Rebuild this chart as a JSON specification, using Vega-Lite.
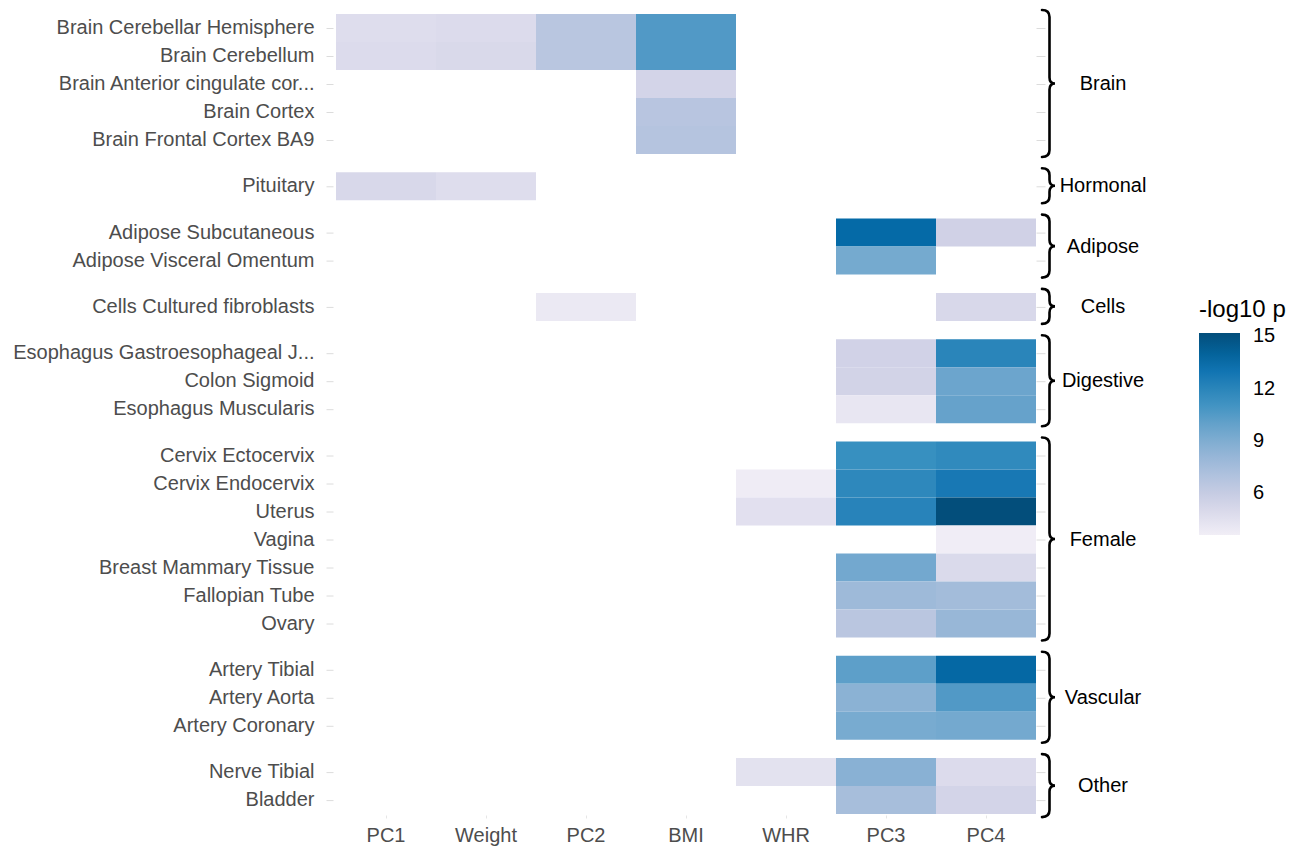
{
  "$schema": "https://vega.github.io/schema/vega-lite/v6.json",
  "padding": {"left": 12, "top": 4, "right": 5, "bottom": 5},
  "background": "white",
  "data": {"values": [
    {"group": "Brain", "tissue": "Brain Cerebellar Hemisphere", "pheno": "PC1", "value": 4.7},
    {"group": "Brain", "tissue": "Brain Cerebellar Hemisphere", "pheno": "Weight", "value": 4.85},
    {"group": "Brain", "tissue": "Brain Cerebellar Hemisphere", "pheno": "PC2", "value": 6.6},
    {"group": "Brain", "tissue": "Brain Cerebellar Hemisphere", "pheno": "BMI", "value": 10.6},
    {"group": "Brain", "tissue": "Brain Cerebellum", "pheno": "PC1", "value": 4.85},
    {"group": "Brain", "tissue": "Brain Cerebellum", "pheno": "Weight", "value": 5.0},
    {"group": "Brain", "tissue": "Brain Cerebellum", "pheno": "PC2", "value": 6.6},
    {"group": "Brain", "tissue": "Brain Cerebellum", "pheno": "BMI", "value": 10.6},
    {"group": "Brain", "tissue": "Brain Anterior cingulate cor...", "pheno": "BMI", "value": 5.35},
    {"group": "Brain", "tissue": "Brain Cortex", "pheno": "BMI", "value": 6.65},
    {"group": "Brain", "tissue": "Brain Frontal Cortex BA9", "pheno": "BMI", "value": 6.8},
    {"group": "Hormonal", "tissue": "Pituitary", "pheno": "PC1", "value": 5.05},
    {"group": "Hormonal", "tissue": "Pituitary", "pheno": "Weight", "value": 4.7},
    {"group": "Adipose", "tissue": "Adipose Subcutaneous", "pheno": "PC3", "value": 13.6},
    {"group": "Adipose", "tissue": "Adipose Subcutaneous", "pheno": "PC4", "value": 5.55},
    {"group": "Adipose", "tissue": "Adipose Visceral Omentum", "pheno": "PC3", "value": 9.35},
    {"group": "Cells", "tissue": "Cells Cultured fibroblasts", "pheno": "PC2", "value": 3.95},
    {"group": "Cells", "tissue": "Cells Cultured fibroblasts", "pheno": "PC4", "value": 5.05},
    {"group": "Digestive", "tissue": "Esophagus Gastroesophageal J...", "pheno": "PC3", "value": 5.45},
    {"group": "Digestive", "tissue": "Esophagus Gastroesophageal J...", "pheno": "PC4", "value": 12.0},
    {"group": "Digestive", "tissue": "Colon Sigmoid", "pheno": "PC3", "value": 5.4},
    {"group": "Digestive", "tissue": "Colon Sigmoid", "pheno": "PC4", "value": 9.7},
    {"group": "Digestive", "tissue": "Esophagus Muscularis", "pheno": "PC3", "value": 4.1},
    {"group": "Digestive", "tissue": "Esophagus Muscularis", "pheno": "PC4", "value": 9.9},
    {"group": "Female", "tissue": "Cervix Ectocervix", "pheno": "PC3", "value": 11.3},
    {"group": "Female", "tissue": "Cervix Ectocervix", "pheno": "PC4", "value": 11.7},
    {"group": "Female", "tissue": "Cervix Endocervix", "pheno": "WHR", "value": 3.7},
    {"group": "Female", "tissue": "Cervix Endocervix", "pheno": "PC3", "value": 11.8},
    {"group": "Female", "tissue": "Cervix Endocervix", "pheno": "PC4", "value": 12.8},
    {"group": "Female", "tissue": "Uterus", "pheno": "WHR", "value": 4.5},
    {"group": "Female", "tissue": "Uterus", "pheno": "PC3", "value": 12.1},
    {"group": "Female", "tissue": "Uterus", "pheno": "PC4", "value": 15.2},
    {"group": "Female", "tissue": "Vagina", "pheno": "PC4", "value": 3.65},
    {"group": "Female", "tissue": "Breast Mammary Tissue", "pheno": "PC3", "value": 9.45},
    {"group": "Female", "tissue": "Breast Mammary Tissue", "pheno": "PC4", "value": 4.95},
    {"group": "Female", "tissue": "Fallopian Tube", "pheno": "PC3", "value": 7.8},
    {"group": "Female", "tissue": "Fallopian Tube", "pheno": "PC4", "value": 7.6},
    {"group": "Female", "tissue": "Ovary", "pheno": "PC3", "value": 6.55},
    {"group": "Female", "tissue": "Ovary", "pheno": "PC4", "value": 8.05},
    {"group": "Vascular", "tissue": "Artery Tibial", "pheno": "PC3", "value": 10.2},
    {"group": "Vascular", "tissue": "Artery Tibial", "pheno": "PC4", "value": 13.7},
    {"group": "Vascular", "tissue": "Artery Aorta", "pheno": "PC3", "value": 8.55},
    {"group": "Vascular", "tissue": "Artery Aorta", "pheno": "PC4", "value": 10.6},
    {"group": "Vascular", "tissue": "Artery Coronary", "pheno": "PC3", "value": 9.25},
    {"group": "Vascular", "tissue": "Artery Coronary", "pheno": "PC4", "value": 9.4},
    {"group": "Other", "tissue": "Nerve Tibial", "pheno": "WHR", "value": 4.4},
    {"group": "Other", "tissue": "Nerve Tibial", "pheno": "PC3", "value": 8.6},
    {"group": "Other", "tissue": "Nerve Tibial", "pheno": "PC4", "value": 4.85},
    {"group": "Other", "tissue": "Bladder", "pheno": "PC3", "value": 7.4},
    {"group": "Other", "tissue": "Bladder", "pheno": "PC4", "value": 5.35}
  ]},
  "facet": {
    "row": {
      "field": "group", "type": "nominal", "title": null,
      "sort": ["Brain", "Hormonal", "Adipose", "Cells", "Digestive", "Female", "Vascular", "Other"],
      "header": {"labels": false}
    }
  },
  "spacing": 18.3,
  "bounds": "flush",
  "resolve": {"scale": {"y": "independent"}},
  "spec": {
    "width": {"step": 100},
    "height": {"step": 28},
    "layer": [
      {
        "mark": {"type": "rect"},
        "encoding": {
          "x": {
            "field": "pheno", "type": "nominal",
            "scale": {"domain": ["PC1", "Weight", "PC2", "BMI", "WHR", "PC3", "PC4"]},
            "axis": {"title": null, "labelAngle": 0, "tickSize": 3, "labelPadding": 7, "tickColor": "#e6e6e6", "domain": false}
          },
          "y": {
            "field": "tissue", "type": "nominal",
            "sort": ["Brain Cerebellar Hemisphere", "Brain Cerebellum", "Brain Anterior cingulate cor...", "Brain Cortex", "Brain Frontal Cortex BA9", "Pituitary", "Adipose Subcutaneous", "Adipose Visceral Omentum", "Cells Cultured fibroblasts", "Esophagus Gastroesophageal J...", "Colon Sigmoid", "Esophagus Muscularis", "Cervix Ectocervix", "Cervix Endocervix", "Uterus", "Vagina", "Breast Mammary Tissue", "Fallopian Tube", "Ovary", "Artery Tibial", "Artery Aorta", "Artery Coronary", "Nerve Tibial", "Bladder"],
            "axis": {"title": null, "orient": "left", "tickSize": 7, "offset": 3, "labelPadding": 12, "labelLimit": 0, "domain": false, "tickColor": "#dcdcdc"}
          },
          "color": {
            "field": "value", "type": "quantitative",
            "scale": {"domain": [3.6, 15.2], "range": ["#F1EEF6", "#D0D1E6", "#A6BDDB", "#74A9CF", "#3690C0", "#0570B0", "#034E7B"], "interpolate": "lab"},
            "legend": {
              "title": "-log10 p", "orient": "none", "legendX": 863, "legendY": 284,
              "direction": "vertical", "gradientLength": 202, "gradientThickness": 41, "gradientStrokeWidth": 0,
              "values": [6, 9, 12, 15], "titleFont": "Liberation Sans", "titleFontSize": 24, "titleFontWeight": "normal",
              "titleColor": "#000000", "titlePadding": 11, "labelFont": "Liberation Sans", "labelFontSize": 20,
              "labelColor": "#000000", "labelOffset": 13
            }
          }
        }
      },
      {
        "transform": [
          {"window": [{"op": "row_number", "as": "rn"}], "groupby": ["group"]},
          {"filter": "datum.rn === 1"}
        ],
        "mark": {"type": "point", "filled": false, "size": 4, "stroke": "#000000", "strokeWidth": 2.6, "opacity": 1, "strokeCap": "round"},
        "encoding": {
          "x": {"datum": "PC4", "type": "nominal", "bandPosition": 1},
          "y": {
            "field": "tissue", "type": "nominal", "bandPosition": 0,
            "sort": ["Brain Cerebellar Hemisphere", "Brain Cerebellum", "Brain Anterior cingulate cor...", "Brain Cortex", "Brain Frontal Cortex BA9", "Pituitary", "Adipose Subcutaneous", "Adipose Visceral Omentum", "Cells Cultured fibroblasts", "Esophagus Gastroesophageal J...", "Colon Sigmoid", "Esophagus Muscularis", "Cervix Ectocervix", "Cervix Endocervix", "Uterus", "Vagina", "Breast Mammary Tissue", "Fallopian Tube", "Ovary", "Artery Tibial", "Artery Aorta", "Artery Coronary", "Nerve Tibial", "Bladder"],
            "axis": {"title": null, "orient": "right", "labels": false, "tickSize": 9, "offset": 0, "domain": false, "tickColor": "#dcdcdc"}
          },
          "shape": {
            "field": "group", "type": "nominal", "legend": null,
            "scale": {
              "domain": ["Brain", "Hormonal", "Adipose", "Cells", "Digestive", "Female", "Vascular", "Other"],
              "range": [
                "M6,-4 C10,-4 13.5,-2 13.5,3 L13.5,63.5 C13.5,67.5 15.5,69.5 19,69.5 C15.5,69.5 13.5,71.5 13.5,75.5 L13.5,136 C13.5,141 10,143 6,143",
                "M6,-4 C10,-4 13.5,-2 13.5,3 L13.5,7.5 C13.5,11.5 15.5,13.5 19,13.5 C15.5,13.5 13.5,15.5 13.5,19.5 L13.5,24 C13.5,29 10,31 6,31",
                "M6,-4 C10,-4 13.5,-2 13.5,3 L13.5,21.5 C13.5,25.5 15.5,27.5 19,27.5 C15.5,27.5 13.5,29.5 13.5,33.5 L13.5,52 C13.5,57 10,59 6,59",
                "M6,-4 C10,-4 13.5,-2 13.5,3 L13.5,7.5 C13.5,11.5 15.5,13.5 19,13.5 C15.5,13.5 13.5,15.5 13.5,19.5 L13.5,24 C13.5,29 10,31 6,31",
                "M6,-4 C10,-4 13.5,-2 13.5,3 L13.5,35.5 C13.5,39.5 15.5,41.5 19,41.5 C15.5,41.5 13.5,43.5 13.5,47.5 L13.5,80 C13.5,85 10,87 6,87",
                "M6,-4 C10,-4 13.5,-2 13.5,3 L13.5,91.5 C13.5,95.5 15.5,97.5 19,97.5 C15.5,97.5 13.5,99.5 13.5,103.5 L13.5,192 C13.5,197 10,199 6,199",
                "M6,-4 C10,-4 13.5,-2 13.5,3 L13.5,35.5 C13.5,39.5 15.5,41.5 19,41.5 C15.5,41.5 13.5,43.5 13.5,47.5 L13.5,80 C13.5,85 10,87 6,87",
                "M6,-4 C10,-4 13.5,-2 13.5,3 L13.5,21.5 C13.5,25.5 15.5,27.5 19,27.5 C15.5,27.5 13.5,29.5 13.5,33.5 L13.5,52 C13.5,57 10,59 6,59"
              ]
            }
          }
        }
      },
      {
        "transform": [
          {"window": [{"op": "row_number", "as": "rn"}], "groupby": ["group"]},
          {"joinaggregate": [{"op": "distinct", "field": "tissue", "as": "n"}], "groupby": ["group"]},
          {"filter": "datum.rn === 1"}
        ],
        "mark": {"type": "text", "align": "center", "baseline": "middle", "dx": 67, "dy": {"expr": "datum.n * 14"}, "font": "Liberation Sans", "fontSize": 20, "color": "#000000"},
        "encoding": {
          "x": {"datum": "PC4", "type": "nominal", "bandPosition": 1},
          "y": {
            "field": "tissue", "type": "nominal", "bandPosition": 0, "axis": null,
            "sort": ["Brain Cerebellar Hemisphere", "Brain Cerebellum", "Brain Anterior cingulate cor...", "Brain Cortex", "Brain Frontal Cortex BA9", "Pituitary", "Adipose Subcutaneous", "Adipose Visceral Omentum", "Cells Cultured fibroblasts", "Esophagus Gastroesophageal J...", "Colon Sigmoid", "Esophagus Muscularis", "Cervix Ectocervix", "Cervix Endocervix", "Uterus", "Vagina", "Breast Mammary Tissue", "Fallopian Tube", "Ovary", "Artery Tibial", "Artery Aorta", "Artery Coronary", "Nerve Tibial", "Bladder"]
          },
          "text": {"field": "group", "type": "nominal"}
        }
      }
    ],
    "resolve": {"axis": {"y": "independent"}}
  },
  "config": {
    "font": "Liberation Sans",
    "view": {"stroke": null},
    "axis": {"labelFont": "Liberation Sans", "labelFontSize": 20, "labelColor": "#4d4d4d", "grid": false}
  }
}
